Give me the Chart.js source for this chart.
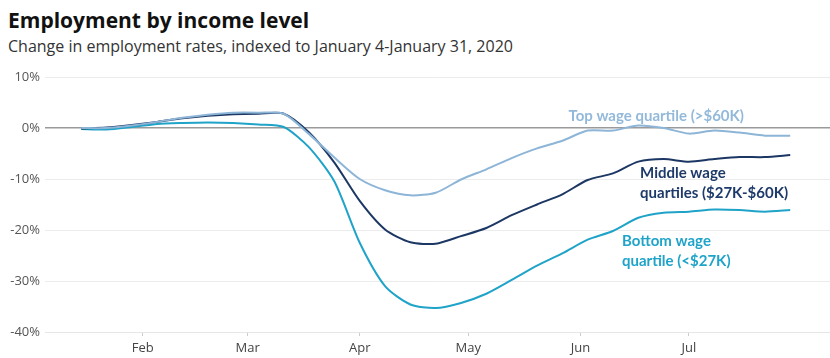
<!DOCTYPE html>
<html>
<head>
<meta charset="utf-8">
<script src="https://cdn.jsdelivr.net/npm/chart.js@4.4.0/dist/chart.umd.min.js"></script>
<style>
    body { margin: 0; background: #fff; width: 830px; height: 358px; overflow: hidden; position: relative; font-family: 'Open Sans', sans-serif; }
    #title { position: absolute; left: 8px; top: 6px; font-size: 21px; font-weight: 700; color: #111; white-space: nowrap; }
    #subtitle { position: absolute; left: 8px; top: 35px; font-size: 16px; color: #333; white-space: nowrap; }
    #chart { position: absolute; left: 0; top: 0; }
</style>
</head>
<body>
<div id="title">Employment by income level</div>
<div id="subtitle">Change in employment rates, indexed to January 4-January 31, 2020</div>
<canvas id="chart" width="830" height="358"></canvas>
<script>

// days since Jan 1 2020, one point per week
var days = [14, 21, 28, 35, 42, 49, 56, 63, 70, 77, 84, 91, 98, 105, 112, 119, 126, 133, 140, 147, 154, 161, 168, 175, 182, 189, 196, 203, 210];

var topWage = [0, 0, 0.5, 1.2, 2.0, 2.6, 3.0, 3.0, 2.8, -1.2, -5.8, -10.0, -12.2, -13.2, -12.7, -10.1, -8.1, -5.9, -4.0, -2.5, -0.5, -0.5, 0.5, 0.0, -1.1, -0.5, -0.9, -1.5, -1.5];
var midWage = [-0.1, 0.1, 0.6, 1.2, 1.9, 2.4, 2.7, 2.8, 2.8, -0.9, -6.8, -14.3, -19.9, -22.4, -22.7, -21.2, -19.6, -17.1, -15.0, -13.0, -10.2, -8.9, -6.6, -6.1, -6.6, -6.1, -5.7, -5.7, -5.3];
var botWage = [-0.2, -0.3, 0.2, 0.8, 1.0, 1.1, 1.0, 0.7, 0.2, -3.8, -10.5, -22.5, -31.0, -34.6, -35.3, -34.3, -32.5, -29.8, -27.0, -24.6, -21.9, -20.2, -17.6, -16.6, -16.4, -16.0, -16.1, -16.4, -16.1];

var monthTicks = [31, 60, 91, 121, 152, 182];
var monthNames = ['Feb', 'Mar', 'Apr', 'May', 'Jun', 'Jul'];
var yTicks = [10, 0, -10, -20, -30, -40];

var seriesNames = [
    ['Top wage quartile (>$60K)'],
    ['Middle wage', 'quartiles ($27K-$60K)'],
    ['Bottom wage', 'quartile (<$27K)']
];

var colors = {
    top: '#8db5d7',
    mid: '#1c3763',
    bot: '#20a3c8'
};

function points(values) {
    return days.map(function (d, i) { return { x: d, y: values[i] }; });
}

// draws the series names next to the lines
var labelPlugin = {
    id: 'seriesLabels',
    afterDatasetsDraw: function (chart, args, opts) {
        var ctx = chart.ctx;
        var xs = chart.scales.x;
        var ys = chart.scales.y;
        ctx.save();
        ctx.font = 'bold 15px Lato';
        ctx.textBaseline = 'alphabetic';
        opts.items.forEach(function (it) {
            ctx.fillStyle = it.color;
            it.lines.forEach(function (line, k) {
                ctx.fillText(line, xs.getPixelForValue(it.day), ys.getPixelForValue(it.value) + k * 20);
            });
        });
        ctx.restore();
    }
};

window.onload = function () {
    var ctx = document.getElementById('chart').getContext('2d');

    var config = {
        type: 'line',
        data: {
            datasets: [
                { data: points(topWage), borderColor: colors.top, borderWidth: 2, pointRadius: 0, tension: 0.25 },
                { data: points(midWage), borderColor: colors.mid, borderWidth: 2, pointRadius: 0, tension: 0.25 },
                { data: points(botWage), borderColor: colors.bot, borderWidth: 2, pointRadius: 0, tension: 0.25 }
            ]
        },
        options: {
            responsive: false,
            animation: false,
            layout: { padding: { top: 77, right: 0, left: 0, bottom: 0 } },
            plugins: {
                legend: { display: false },
                tooltip: { enabled: false },
                seriesLabels: {
                    items: [
                        { lines: seriesNames[0], color: '#93b9da', day: 148.7, value: 1.44 },
                        { lines: seriesNames[1], color: '#1d3a6a', day: 168.5, value: -9.72 },
                        { lines: seriesNames[2], color: '#1ea3c9', day: 163.5, value: -23.1 }
                    ]
                }
            },
            scales: {
                x: {
                    type: 'linear',
                    min: 4,
                    max: 221,
                    afterBuildTicks: function (scale) {
                        scale.ticks = monthTicks.map(function (v) { return { value: v }; });
                    },
                    afterFit: function (scale) { scale.height = 26; },
                    ticks: {
                        autoSkip: false,
                        maxRotation: 0,
                        padding: 4,
                        color: '#444',
                        font: { family: 'Open Sans', size: 13 },
                        callback: function (v) { return monthNames[monthTicks.indexOf(v)]; }
                    },
                    grid: { drawOnChartArea: false, tickLength: 4, color: '#cccccc' },
                    border: { color: '#e6e6e6' }
                },
                y: {
                    min: -40,
                    max: 10,
                    afterBuildTicks: function (scale) {
                        scale.ticks = yTicks.map(function (v) { return { value: v }; });
                    },
                    afterFit: function (scale) { scale.width = 45; },
                    ticks: {
                        padding: 5,
                        color: '#555',
                        font: { family: 'Open Sans', size: 13 },
                        callback: function (v) { return v + '%'; }
                    },
                    grid: {
                        drawTicks: false,
                        color: function (c) { return c.tick && c.tick.value === 0 ? '#9a9a9a' : '#ececec'; },
                        lineWidth: function (c) { return c.tick && c.tick.value === 0 ? 1.5 : 1; }
                    },
                    border: { display: false }
                }
            }
        },
        plugins: [labelPlugin]
    };

    window.myChart = new Chart(ctx, config);
};
</script>
</body>
</html>
